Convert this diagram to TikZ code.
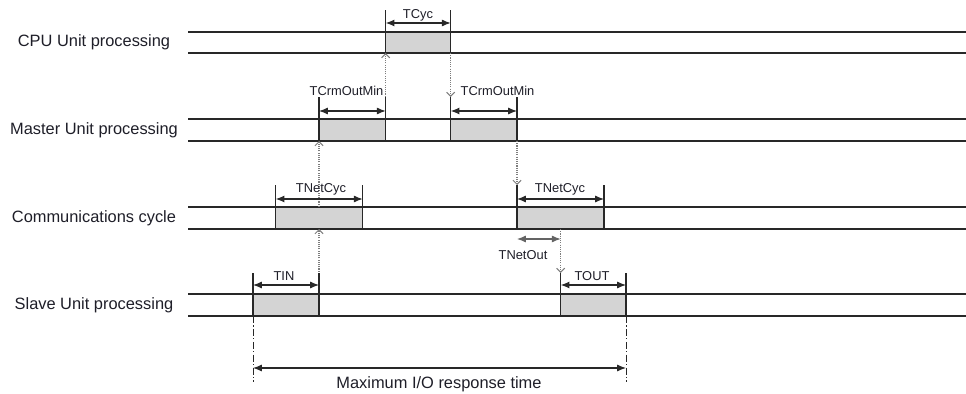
\documentclass[tikz,border=0pt]{standalone}
\usepackage{fontspec}
\setmainfont{Liberation Sans}
\usetikzlibrary{arrows.meta,fit}
\definecolor{linegray}{RGB}{40,40,40}
\definecolor{boxgray}{RGB}{212,212,212}
\definecolor{sigray}{RGB}{125,125,125}
\definecolor{outgray}{RGB}{100,100,100}
\definecolor{txtcol}{RGB}{30,30,40}

\begin{document}
\begin{tikzpicture}[x=0.03cm, y=-0.03cm,
  lane/.style={draw=linegray, line width=1pt},
  busy/.style={draw=linegray, fill=boxgray, inner sep=0pt, outer sep=0pt, line width=1pt},
  extline/.style={draw=linegray, line width=1pt},
  maxline/.style={draw=linegray, line width=0.8pt, dash pattern=on 6pt off 2pt on 1pt off 2pt},
  dimarrow/.style={draw=linegray, line width=1pt, {Latex[length=7.5pt,width=6pt]}-{Latex[length=7.5pt,width=6pt]}},
  signal/.style={draw=sigray, line width=0.9pt, densely dotted, -{Straight Barb[length=3.5pt,width=7pt]}},
  lanelabel/.style={text=txtcol, font=\fontsize{14}{16}\selectfont},
  timelabel/.style={text=txtcol, font=\fontsize{11}{13}\selectfont, inner sep=0pt}]
\useasboundingbox (0,0) rectangle (966,394);

% lanes and their names
\foreach \name/\ytop/\ybot/\lbl in {cpu/32/53/CPU Unit processing, mst/119/141/Master Unit processing,
    com/207/229/Communications cycle, slv/294/316/Slave Unit processing}{
  \draw[lane] (188,\ytop) -- (966,\ytop);
  \draw[lane] (188,\ybot) -- (966,\ybot);
  \node[lanelabel] (\name-lbl) at (94,{(\ytop+\ybot)/2}) {\lbl};
}

% levels of extension lines and dimension arrows
\coordinate (cyc-top) at (0,10);   \coordinate (cyc-dim) at (0,23);
\coordinate (crm-top) at (0,97);   \coordinate (crm-dim) at (0,111);
\coordinate (net-top) at (0,185);  \coordinate (net-dim) at (0,199);
\coordinate (io-top) at (0,273);   \coordinate (io-dim) at (0,285);
\coordinate (out-dim) at (0,239);
\coordinate (max-dim) at (0,368);  \coordinate (max-bot) at (0,382);

% busy intervals
\node[busy, fit={(385.7,32) (450.7,53)}] (cpu-run) {};
\node[busy, fit={(319,119) (385.7,141)}] (mst-a) {};
\node[busy, fit={(450.7,119) (517,141)}] (mst-b) {};
\node[busy, fit={(275.7,207) (362.7,229)}] (com-a) {};
\node[busy, fit={(517,207) (604,229)}] (com-b) {};
\node[busy, fit={(253,294) (319,316)}] (slv-a) {};
\node[busy, fit={(560.7,294) (626,316)}] (slv-b) {};

% signals passed between the units
\draw[signal] (slv-a.north east) -- (slv-a.north east |- com-a.south);
\draw[signal] (mst-a.south west |- com-a.north) -- (mst-a.south west);
\draw[signal] (mst-a.north east) -- (cpu-run.south west);
\draw[signal] (cpu-run.south east) -- (mst-b.north west |- crm-top);
\draw[signal] (mst-b.south east) -- (com-b.north west |- net-top);
\draw[signal] (slv-b.north west |- com-b.south) -- (slv-b.north west |- io-top);

% extension lines and times
\foreach \iv/\lvl in {cpu-run/cyc, mst-a/crm, mst-b/crm, com-a/net, com-b/net, slv-a/io, slv-b/io}{
  \draw[extline] (\iv.north west) -- (\iv.north west |- \lvl-top);
  \draw[extline] (\iv.north east) -- (\iv.north east |- \lvl-top);
  \draw[dimarrow] (\iv.north west |- \lvl-dim) -- (\iv.north east |- \lvl-dim);
}
\draw[dimarrow, draw=outgray] (com-b.south west |- out-dim) -- (slv-b.north west |- out-dim);

\node[timelabel] (cyc-lbl) at (418,15) {TCyc};
\node[timelabel] (crm-a-lbl) at (346.5,90.6) {TCrmOutMin};
\node[timelabel] (crm-b-lbl) at (497.5,90.6) {TCrmOutMin};
\node[timelabel] (net-a-lbl) at (321,189) {TNetCyc};
\node[timelabel] (net-b-lbl) at (560,189) {TNetCyc};
\node[timelabel] (out-lbl) at (523,255) {TNetOut};
\node[timelabel] (in-lbl) at (284,276) {TIN};
\node[timelabel] (tout-lbl) at (592,276) {TOUT};

% maximum response time
\draw[maxline] (slv-a.south west) -- (slv-a.south west |- max-bot);
\draw[maxline] (slv-b.south east) -- (slv-b.south east |- max-bot);
\draw[dimarrow] (slv-a.south west |- max-dim) -- (slv-b.south east |- max-dim);
\node[lanelabel] (max-lbl) at (439,384) {Maximum I/O response time};
\end{tikzpicture}
\end{document}
